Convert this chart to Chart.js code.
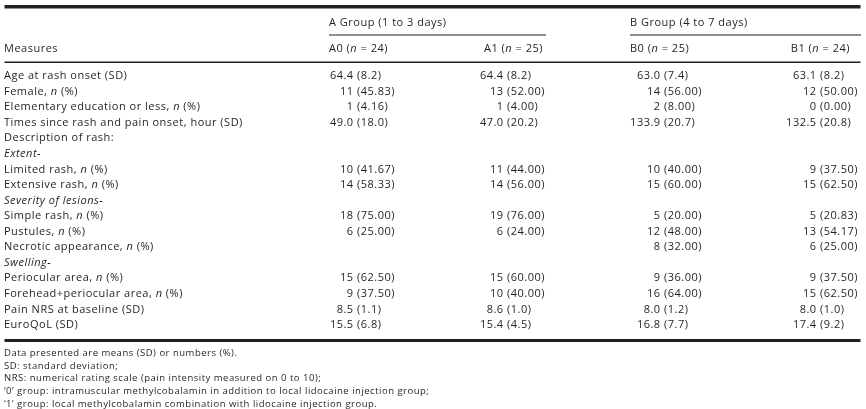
<!DOCTYPE html>
<html>
<head>
<meta charset="utf-8">
<script src="https://cdn.jsdelivr.net/npm/chart.js@4/dist/chart.umd.min.js"></script>
<style>
  html, body { margin: 0; padding: 0; background: #fff; }
  canvas { display: block; }
</style>
</head>
<body>
<canvas id="table" width="866" height="409"></canvas>
<script>
// row labels, _x_ marks italic text
const measures = [
    "Age at rash onset (SD)",
    "Female, _n_ (%)",
    "Elementary education or less, _n_ (%)",
    "Times since rash and pain onset, hour (SD)",
    "Description of rash:",
    "_Extent-_",
    "Limited rash, _n_ (%)",
    "Extensive rash, _n_ (%)",
    "_Severity of lesions-_",
    "Simple rash, _n_ (%)",
    "Pustules, _n_ (%)",
    "Necrotic appearance, _n_ (%)",
    "_Swelling-_",
    "Periocular area, _n_ (%)",
    "Forehead+periocular area, _n_ (%)",
    "Pain NRS at baseline (SD)",
    "EuroQoL (SD)"
];
// "sd" = mean (SD), "pct" = n (%), null = heading row
const rowKind = ["sd", "pct", "pct", "sd", null, null, "pct", "pct", null, "pct", "pct", "pct", null, "pct", "pct", "sd", "sd"];

const columns = ["A0 (_n_ = 24)", "A1 (_n_ = 25)", "B0 (_n_ = 25)", "B1 (_n_ = 24)"];
const groups = ["A Group (1 to 3 days)", "B Group (4 to 7 days)"];

const a0Value = [64.4, 11, 1, 49.0, null, null, 10, 14, null, 18, 6, null, null, 15, 9, 8.5, 15.5];
const a0Paren = [8.2, 45.83, 4.16, 18.0, null, null, 41.67, 58.33, null, 75.00, 25.00, null, null, 62.50, 37.50, 1.1, 6.8];
const a1Value = [64.4, 13, 1, 47.0, null, null, 11, 14, null, 19, 6, null, null, 15, 10, 8.6, 15.4];
const a1Paren = [8.2, 52.00, 4.00, 20.2, null, null, 44.00, 56.00, null, 76.00, 24.00, null, null, 60.00, 40.00, 1.0, 4.5];
const b0Value = [63.0, 14, 2, 133.9, null, null, 10, 15, null, 5, 12, 8, null, 9, 16, 8.0, 16.8];
const b0Paren = [7.4, 56.00, 8.00, 20.7, null, null, 40.00, 60.00, null, 20.00, 48.00, 32.00, null, 36.00, 64.00, 1.2, 7.7];
const b1Value = [63.1, 12, 0, 132.5, null, null, 9, 15, null, 5, 13, 6, null, 9, 15, 8.0, 17.4];
const b1Paren = [8.2, 50.00, 0.00, 20.8, null, null, 37.50, 62.50, null, 20.83, 54.17, 25.00, null, 37.50, 62.50, 1.0, 9.2];

const footnotes = [
    "Data presented are means (SD) or numbers (%).",
    "SD: standard deviation;",
    "NRS: numerical rating scale (pain intensity measured on 0 to 10);",
    "\u20180\u2019 group: intramuscular methylcobalamin in addition to local lidocaine injection group;",
    "\u20181\u2019 group: local methylcobalamin combination with lidocaine injection group."
];

// layout
const ink = "#231f20";
const family = "'Open Sans', 'Noto Sans', sans-serif";
const bodySize = 11;
const noteSize = 9.5;
const spacing = "0.5px";
const colAnchor = [357, 507, 664, 820]; // x of the "(" in each column

function fmt(v, kind, paren) {
    if (kind === "sd") return v.toFixed(1);
    return paren ? v.toFixed(2) : String(v);
}

function cellsFor(values, parens, j) {
    const pts = [];
    values.forEach((v, i) => {
        if (v === null) return;
        pts.push({
            x: colAnchor[j],
            y: measures[i],
            main: fmt(v, rowKind[i], false),
            par: "(" + fmt(parens[i], rowKind[i], true) + ")"
        });
    });
    return pts;
}

// draws text with _italic_ parts, left aligned
function richText(ctx, s, x, y, size) {
    const parts = s.split("_");
    parts.forEach((p, k) => {
        ctx.font = (k % 2 ? "italic " : "") + size + "px " + family;
        ctx.fillText(p, x, y);
        x += ctx.measureText(p).width;
    });
    return x;
}
function richWidth(ctx, s, size) {
    let w = 0;
    s.split("_").forEach((p, k) => {
        ctx.font = (k % 2 ? "italic " : "") + size + "px " + family;
        w += ctx.measureText(p).width;
    });
    return w;
}

const tablePlugin = {
    id: "tablePlugin",
    afterDatasetsDraw(chart) {
        const ctx = chart.ctx;
        const yS = chart.scales.y;
        const xS = chart.scales.x;
        ctx.save();
        ctx.fillStyle = ink;
        ctx.textBaseline = "middle";
        ctx.textAlign = "left";
        ctx.letterSpacing = spacing;

        // rules
        ctx.fillRect(xS.getPixelForValue(4.5), 5, 856, 3.5);
        ctx.fillRect(xS.getPixelForValue(329), 34.5, 217, 1);
        ctx.fillRect(xS.getPixelForValue(630), 34.5, 231, 1);
        ctx.fillRect(xS.getPixelForValue(4.5), 61.5, 856, 1.5);
        ctx.fillRect(xS.getPixelForValue(4.5), 339, 856, 3);

        // header
        richText(ctx, groups[0], 329, 23, bodySize);
        richText(ctx, groups[1], 630, 23, bodySize);
        richText(ctx, "Measures", 4, 49, bodySize);
        richText(ctx, columns[0], 329, 49, bodySize);
        richText(ctx, columns[1], 543 - richWidth(ctx, columns[1], bodySize), 49, bodySize);
        richText(ctx, columns[2], 630, 49, bodySize);
        richText(ctx, columns[3], 850 - richWidth(ctx, columns[3], bodySize), 49, bodySize);

        // row labels
        measures.forEach((m, i) => {
            richText(ctx, m, 4, yS.getPixelForValue(i), bodySize);
        });

        // cells
        ctx.font = bodySize + "px " + family;
        chart.data.datasets.forEach((ds, j) => {
            chart.getDatasetMeta(j).data.forEach((pt, k) => {
                const c = ds.data[k];
                const w = ctx.measureText(c.main + " ").width;
                ctx.fillText(c.main + " " + c.par, pt.x - w, pt.y);
            });
        });

        // footnotes
        footnotes.forEach((f, i) => {
            richText(ctx, f, 4, 353.5 + 12.6 * i, noteSize);
        });
        ctx.restore();
    }
};

const graph = document.getElementById("table");
const ctx = graph.getContext("2d");

const myChart = new Chart(ctx, {
    type: "scatter",
    data: {
        datasets: [
            { label: "A0", data: cellsFor(a0Value, a0Paren, 0) },
            { label: "A1", data: cellsFor(a1Value, a1Paren, 1) },
            { label: "B0", data: cellsFor(b0Value, b0Paren, 2) },
            { label: "B1", data: cellsFor(b1Value, b1Paren, 3) }
        ]
    },
    options: {
        responsive: false,
        animation: false,
        devicePixelRatio: 1,
        layout: { padding: { top: 76, bottom: 84, left: 0, right: 0 } },
        elements: { point: { radius: 0, hoverRadius: 0 } },
        scales: {
            x: { type: "linear", min: 0, max: 866, display: false },
            y: { type: "category", labels: measures, offset: false, display: false }
        },
        plugins: {
            legend: { display: false },
            tooltip: { enabled: false }
        }
    },
    plugins: [tablePlugin]
});
</script>
</body>
</html>
